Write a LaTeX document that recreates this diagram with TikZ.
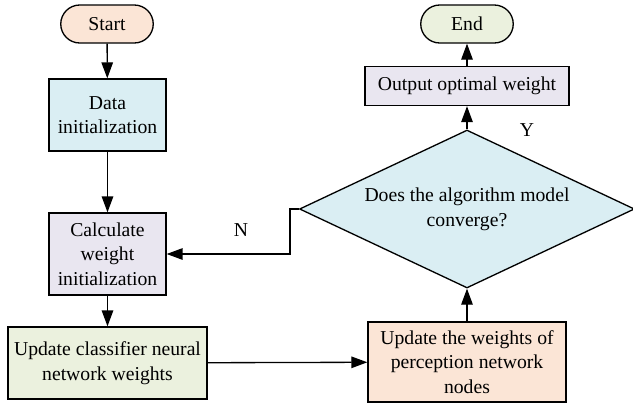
\documentclass[tikz,border=0pt]{standalone}
\usepackage{fontspec}
\setmainfont{Liberation Serif}
\usetikzlibrary{positioning,shapes.geometric,arrows.meta}
\definecolor{peach}{HTML}{FBE5D6}
\definecolor{paleblue}{HTML}{DAEEF3}
\definecolor{lavender}{HTML}{E9E6F0}
\definecolor{palegreen}{HTML}{EBF1DE}
\begin{document}
\begin{tikzpicture}[
    font=\fontsize{11.2}{14}\selectfont,
    every node/.style={line width=0.75pt},
    term/.style={draw,rectangle,rounded corners=3.8mm,minimum width=1.85cm,minimum height=0.76cm},
    procbox/.style={draw,rectangle,align=center,inner sep=1pt},
    decide/.style={draw,diamond,aspect=2.1,align=center,inner sep=0pt,minimum width=6.7cm,minimum height=3.16cm,fill=paleblue},
    flow/.style={line width=0.75pt,-{Triangle[length=3.2mm,width=2.3mm]}}
]
        \useasboundingbox (0,0) rectangle (12.66,-8.08);
        \node[term,fill=peach] (start) at (2.14,-0.48) {Start};
        \node[procbox,fill=paleblue,minimum width=2.34cm,minimum height=1.44cm] (datainit) at (2.15,-2.3) {Data\\initialization};
        \node[procbox,fill=lavender,minimum width=2.34cm,minimum height=1.64cm] (calcw) at (2.15,-5.08) {Calculate\\weight\\initialization};
        \node[procbox,fill=palegreen,minimum width=3.98cm,minimum height=1.44cm] (classif) at (2.15,-7.26) {Update classifier neural\\network weights};
        \node[procbox,fill=peach,minimum width=3.96cm,minimum height=1.6cm] (percep) at (9.34,-7.24) {Update the weights of\\perception network\\nodes};
        \node[decide] (conv) at (9.34,-4.18) {Does the algorithm model\\converge?};
        \node[procbox,fill=lavender,minimum width=4.08cm,minimum height=0.78cm] (output) at (9.34,-1.72) {Output optimal weight};
        \node[term,fill=palegreen] (stop) at (9.34,-0.48) {End};
        \coordinate (bend) at (5.8,-4.18);
        \draw[flow] (start) -- (datainit);
        \draw[flow] (datainit) -- (calcw);
        \draw[flow] (calcw) -- (classif);
        \draw[flow] (classif) -- (percep);
        \draw[flow] (percep) -- (conv);
        \draw[flow] (conv) -- (output);
        \draw[flow] (output) -- (stop);
        \draw[flow] (conv.west) -- (bend) |- (calcw.east);
        \node at (10.54,-2.6) {Y};
        \node at (4.82,-4.6) {N};
    \end{tikzpicture}
\end{document}
